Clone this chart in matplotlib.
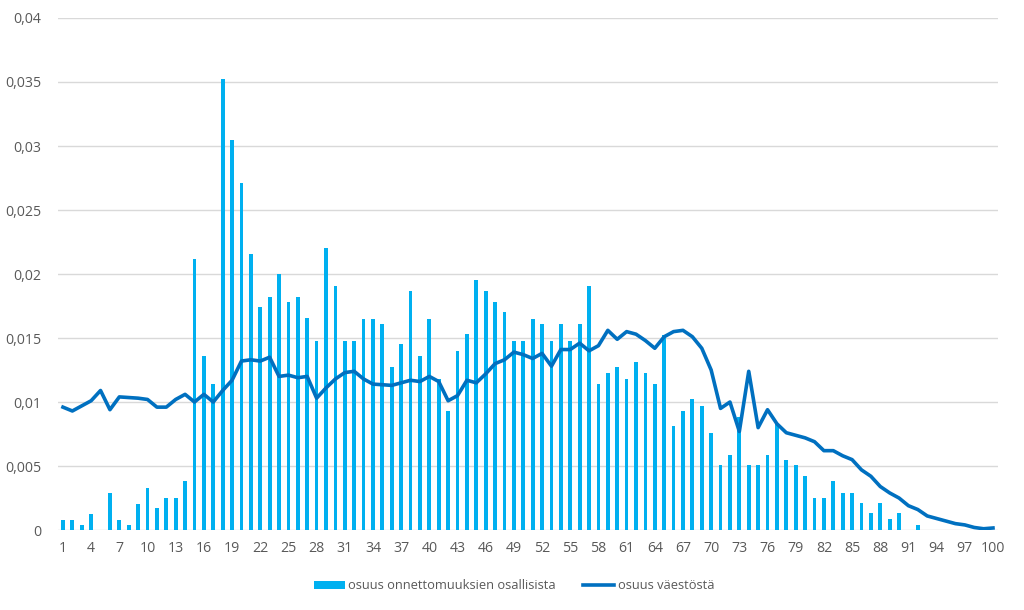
import numpy as np
import matplotlib.pyplot as plt
from matplotlib.ticker import FuncFormatter, MultipleLocator

plt.rcParams['font.family'] = ['Open Sans', 'DejaVu Sans']

ika = np.arange(1, 101)

# osuus onnettomuuksien osallisista (pylväät)
osalliset = [
    0.0008, 0.0008, 0.0004, 0.00125, 0.0, 0.0029, 0.0008, 0.0004, 0.0020, 0.0033,
    0.0017, 0.0025, 0.0025, 0.0038, 0.0212, 0.0136, 0.0114, 0.0352, 0.0305, 0.0271,
    0.0216, 0.0174, 0.0182, 0.0200, 0.0178, 0.0182, 0.0166, 0.0148, 0.0220, 0.0191,
    0.0148, 0.0148, 0.0165, 0.0165, 0.0161, 0.0127, 0.0145, 0.0187, 0.0136, 0.0165,
    0.0118, 0.0093, 0.0140, 0.0153, 0.0195, 0.0187, 0.0178, 0.0170, 0.0148, 0.0148,
    0.0165, 0.0161, 0.0148, 0.0161, 0.0148, 0.0161, 0.0191, 0.0114, 0.0123, 0.0127,
    0.0118, 0.0131, 0.0123, 0.0114, 0.0152, 0.0081, 0.0093, 0.0102, 0.0097, 0.0076,
    0.0051, 0.0059, 0.0088, 0.0051, 0.0051, 0.0059, 0.0083, 0.0055, 0.0051, 0.0042,
    0.0025, 0.0025, 0.0038, 0.0029, 0.0029, 0.0021, 0.0013, 0.0021, 0.0009, 0.0013,
    0.0, 0.0004, 0.0, 0.0, 0.0, 0.0, 0.0, 0.0, 0.0, 0.0,
]

# osuus väestöstä (viiva)
vaesto = [
    0.0096, 0.0093, 0.0097, 0.0101, 0.0109, 0.0094, 0.0104, 0.01035, 0.0103, 0.0102,
    0.0096, 0.0096, 0.0102, 0.0106, 0.0100, 0.0106, 0.0100, 0.0109, 0.0117, 0.0132,
    0.0133, 0.0132, 0.0135, 0.0120, 0.0121, 0.0119, 0.0120, 0.0103, 0.0111, 0.0118,
    0.0123, 0.0124, 0.0118, 0.0114, 0.01135, 0.0113, 0.0115, 0.0117, 0.0116, 0.0120,
    0.0116, 0.0101, 0.0105, 0.0117, 0.0115, 0.0122, 0.0130, 0.0133, 0.0139, 0.0137,
    0.0134, 0.0138, 0.0128, 0.0141, 0.0141, 0.0146, 0.0140, 0.0144, 0.0156, 0.0149,
    0.0155, 0.0153, 0.0148, 0.0142, 0.0151, 0.0155, 0.0156, 0.0151, 0.0142, 0.0125,
    0.0095, 0.0100, 0.0077, 0.0124, 0.0080, 0.0094, 0.0083, 0.0076, 0.0074, 0.0072,
    0.0069, 0.0062, 0.0062, 0.0058, 0.0055, 0.0047, 0.0042, 0.0034, 0.0029, 0.0025,
    0.0019, 0.0016, 0.0011, 0.0009, 0.0007, 0.0005, 0.0004, 0.0002, 0.0001, 0.00016,
]

fig = plt.figure(figsize=(10.24, 6.10), dpi=100)
ax = fig.add_axes([0.0569, 0.1311, 0.9174, 0.8394])

bars = ax.bar(ika, osalliset, width=0.4, color='#00B0F0', label='osuus onnettomuuksien osallisista', zorder=2)
line, = ax.plot(ika, vaesto, color='#0070C0', linewidth=2.6, solid_joinstyle='round',
                label='osuus väestöstä', zorder=3)

ax.set_xlim(0.5, 100.5)
ax.set_ylim(0, 0.04)
ax.yaxis.set_major_locator(MultipleLocator(0.005))
ax.yaxis.set_major_formatter(FuncFormatter(lambda v, p: f"{v:.3f}".rstrip('0').rstrip('.').replace('.', ',') if v else '0'))
ax.set_xticks(ika[::3])

ax.grid(axis='y', color='#D9D9D9', linewidth=1, zorder=0)
ax.set_axisbelow(True)
for s in ax.spines.values():
    s.set_visible(False)
ax.tick_params(axis='both', length=0, labelsize=10.2, colors='#595959')
ax.tick_params(axis='y', pad=12)
ax.tick_params(axis='x', pad=8)

fig.legend([bars, line], ['osuus onnettomuuksien osallisista', 'osuus väestöstä'],
           loc='lower center', bbox_to_anchor=(0.502, 0.01), ncol=2, frameon=False,
           fontsize=9.3, labelcolor='#595959', handlelength=2.4, handleheight=0.55,
           handletextpad=0.3, columnspacing=2.1)

fig.savefig('out.png', dpi=100)
